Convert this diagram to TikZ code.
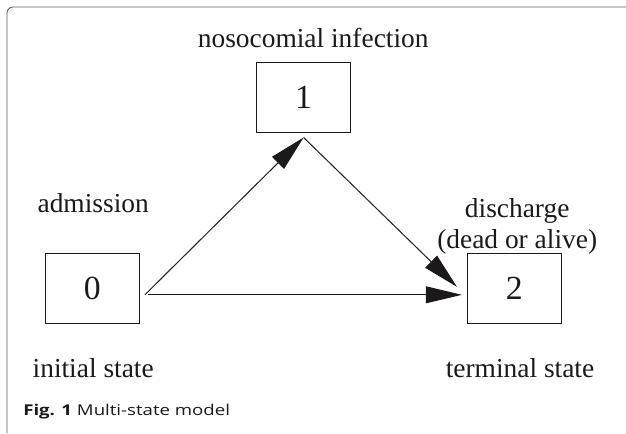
\documentclass[tikz,border=0pt]{standalone}
\usepackage{fontspec}
\setmainfont{Liberation Serif}
\newfontfamily\capfont{Open Sans}[FakeStretch=1.25]
\usepackage{xcolor}
\usepackage{tikz}
\usetikzlibrary{positioning,arrows.meta,calc}
\definecolor{ink}{HTML}{1B1919}
\definecolor{frameGray}{HTML}{5A5A5A}
\tikzset{
  state/.style={draw=ink, line width=0.7pt, minimum width=2.35cm, minimum height=1.75cm, inner sep=0pt, font=\fontsize{24}{26}\selectfont, text=ink},
  lbl/.style={font=\fontsize{19.5}{22}\selectfont, text=ink, inner sep=0pt},
  trans/.style={ink, line width=0.7pt, -{Triangle[length=9mm, width=4.2mm]}},
}

\begin{document}
\begin{tikzpicture}
\useasboundingbox (0,0) rectangle (15.65,-10.825);
% frame of the figure box
\draw[frameGray, line width=0.6pt, rounded corners=0.15cm] (15.65,-0.175) -- (0.175,-0.175) -- (0.175,-10.825);
% states
\node[state] (s0) at (2.31,-7.22) {0};
\node[state] (s1) at (7.59,-2.425) {1};
\node[state] (s2) at (12.86,-7.22) {2};
% labels
\node[lbl, anchor=base] (lInf) at (7.83,-1.175) {nosocomial infection};
\node[lbl, anchor=base] (lAdm) at (2.33,-5.3) {admission};
\node[lbl, anchor=base, align=center] (lDis) at (12.93,-6.2) {discharge\\(dead or alive)};
\node[lbl, anchor=base] (lIni) at (2.33,-9.425) {initial state};
\node[lbl, anchor=base] (lTer) at (13.0,-9.425) {terminal state};
% transitions
\draw[trans] ([shift={(0.125,-0.15)}]s0.east) -- ([yshift=-0.125cm]s1.south);
\draw[trans] ([yshift=-0.125cm]s1.south) -- ([shift={(-0.25,0.05)}]s2.west);
\draw[trans] ([shift={(0.2,-0.15)}]s0.east) -- ([shift={(-0.125,-0.15)}]s2.west);
% caption
\node[anchor=base west, inner sep=0pt, font=\capfont\fontsize{10.6}{12}\selectfont, text=ink] (cap) at (0.575,-10.375) {\textbf{Fig. 1} Multi-state model};
\end{tikzpicture}
\end{document}
